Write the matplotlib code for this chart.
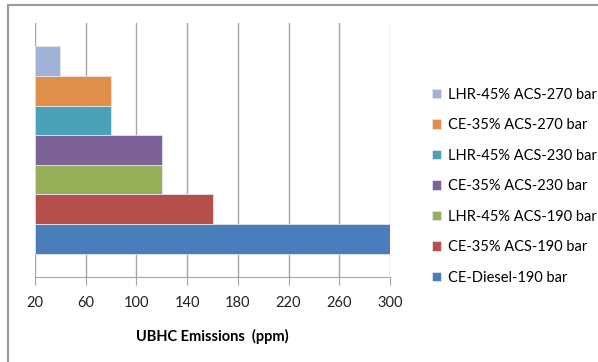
import matplotlib.pyplot as plt
from matplotlib.lines import Line2D

plt.rcParams['font.family'] = ['Lato', 'DejaVu Sans']

series = ["CE-Diesel-190 bar", "CE-35% ACS-190 bar", "LHR-45% ACS-190 bar",
          "CE-35% ACS-230 bar", "LHR-45% ACS-230 bar", "CE-35% ACS-270 bar",
          "LHR-45% ACS-270 bar"]
ubhc = [300, 160, 120, 120, 80, 80, 40]
colors = ["#4a7ebb", "#b5504d", "#95b058", "#7d6298", "#4ba2b8", "#df8f4a", "#a0b3d6"]
xticks = [20, 60, 100, 140, 180, 220, 260, 300]

fig = plt.figure(figsize=(5.98, 3.62), dpi=100)
ax = fig.add_axes([35/598, 1 - 277/362, 355/598, 254/362])

base = 20
for i, (name, val, c) in enumerate(zip(series, ubhc, colors)):
    ax.barh(i, val - base, left=base, height=1.0, color=c, edgecolor="#dfe6f0",
            linewidth=0.6, label=name, zorder=3)

ax.set_xlim(20, 300)
ax.set_ylim(-1.29, 7.29)
ax.set_xticks(xticks)
ax.set_xticklabels([str(t) for t in xticks], fontsize=10.5)
ax.set_yticks([])
ax.grid(axis="x", color="#a6a6a6", linewidth=1.0, zorder=0)
for s in ["top", "right", "left"]:
    ax.spines[s].set_visible(False)
ax.spines["bottom"].set_color("#a6a6a6")
ax.tick_params(axis="x", direction="out", length=6, color="#a6a6a6", pad=8,
               labelcolor="#222222")
ax.set_xlabel("UBHC Emissions  (ppm)", fontsize=10.5, fontweight="bold", labelpad=13)

handles, labels = ax.get_legend_handles_labels()
leg = fig.legend(handles[::-1], labels[::-1], loc="upper left",
                 bbox_to_anchor=(420/598, 1 - 76/362), frameon=False,
                 fontsize=10.5, handlelength=0.65, handleheight=0.65,
                 handletextpad=0.45, labelspacing=1.13, borderpad=0.3)

# chart area border (left and top edges)
fig.add_artist(Line2D([8/598, 8/598], [0, 1 - 5/362], color="#9a9a9a", lw=1.5,
                      transform=fig.transFigure))
fig.add_artist(Line2D([8/598, 1], [1 - 5/362, 1 - 5/362], color="#9a9a9a", lw=1.5,
                      transform=fig.transFigure))

fig.savefig("out.png", dpi=100)
